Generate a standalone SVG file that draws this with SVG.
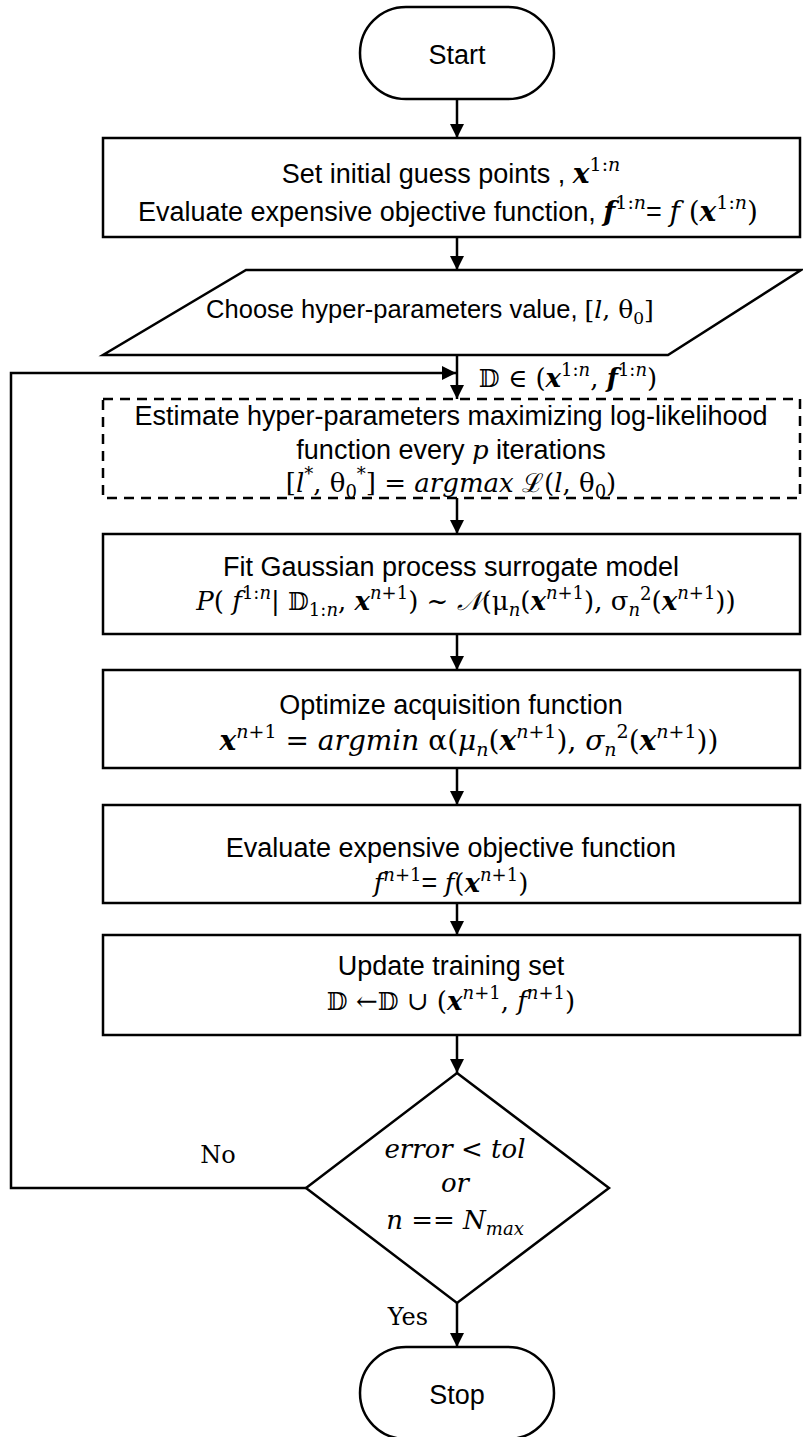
<svg xmlns="http://www.w3.org/2000/svg" width="803" height="1437" viewBox="0 0 803 1437">
<defs>
<marker id="ah" markerUnits="userSpaceOnUse" markerWidth="14" markerHeight="14" refX="14" refY="7" orient="auto"><path d="M0,0 L14,7 L0,14 z" fill="#000"/></marker>
<style>
.sh{fill:#fff;stroke:#000;stroke-width:2.5}
.t{font-family:"Liberation Sans",Arial,sans-serif;font-size:27px;fill:#000;text-anchor:middle}
.m{font-size:26px}
.m2{font-size:28px}
.i{font-family:"DejaVu Serif",serif;font-style:italic}
.b{font-family:"DejaVu Serif",serif;font-style:italic;font-weight:bold}
.r{font-family:"DejaVu Serif",serif}
.d{font-family:"DejaVu Serif","DejaVu Sans",serif;font-size:24px}
.s{font-size:18px}
.s2{font-size:19px}
.lb{font-family:"DejaVu Serif",serif;font-size:24px;fill:#000;text-anchor:middle}
.c{stroke:#000;stroke-width:2.5;fill:none;marker-end:url(#ah)}
</style>
</defs>
<g id="connectors">
<line class="c" x1="457" y1="99" x2="457" y2="138"/>
<line class="c" x1="457" y1="237" x2="457" y2="270"/>
<line class="c" x1="457" y1="355" x2="457" y2="399"/>
<polyline class="c" points="306,1188 11,1188 11,373 456,373"/>
<line class="c" x1="457" y1="498" x2="457" y2="534"/>
<line class="c" x1="457" y1="634" x2="457" y2="670"/>
<line class="c" x1="457" y1="768" x2="457" y2="805"/>
<line class="c" x1="457" y1="903" x2="457" y2="935"/>
<line class="c" x1="457" y1="1035" x2="457" y2="1073"/>
<line class="c" x1="457" y1="1303" x2="457" y2="1347"/>
</g>
<g id="start">
<rect class="sh" x="360" y="7" width="194" height="92" rx="46"/>
<text class="t" x="457" y="64">Start</text>
</g>
<g id="init">
<rect class="sh" x="103" y="138" width="697" height="99"/>
<text class="t" x="451" y="183">Set initial guess points , <tspan class="b m2">x</tspan><tspan class="r s2" dy="-12">1:</tspan><tspan class="i s2">n</tspan></text>
<text class="t" x="448" y="221">Evaluate expensive objective function, <tspan class="b m2">f</tspan><tspan class="r s2" dy="-12">1:</tspan><tspan class="i s2">n</tspan><tspan dy="12">= </tspan><tspan class="i m2">f</tspan><tspan class="r m2"> (</tspan><tspan class="b m2">x</tspan><tspan class="r s2" dy="-12">1:</tspan><tspan class="i s2">n</tspan><tspan class="r m2" dy="12">)</tspan></text>
</g>
<g id="hyper">
<polygon class="sh" points="246,270 801,270 668,355 103,355"/>
<text class="t" x="430" y="318" style="font-size:25.5px">Choose hyper-parameters value, <tspan class="r" style="font-size:25px">[</tspan><tspan class="i" style="font-size:25px">l</tspan><tspan class="r" style="font-size:25px">, θ</tspan><tspan class="r" style="font-size:17px" dy="6">0</tspan><tspan class="r" style="font-size:25px" dy="-6">]</tspan></text>
</g>
<g id="dlabel">
<text class="t" x="568" y="387"><tspan class="d">𝔻</tspan><tspan class="r m"> ∈ (</tspan><tspan class="b m">x</tspan><tspan class="r s" dy="-11">1:</tspan><tspan class="i s">n</tspan><tspan class="r m" dy="11">, </tspan><tspan class="b m">f</tspan><tspan class="r s" dy="-11">1:</tspan><tspan class="i s">n</tspan><tspan class="r m" dy="11">)</tspan></text>
</g>
<g id="estimate">
<rect x="103" y="399" width="697" height="99" fill="#fff" stroke="#000" stroke-width="2.5" stroke-dasharray="10,7"/>
<text class="t" x="451" y="425">Estimate hyper-parameters maximizing log-likelihood</text>
<text class="t" x="451" y="459">function every <tspan class="i m">p</tspan> iterations</text>
<text class="t" x="451" y="492"><tspan class="r m">[</tspan><tspan class="i m">l</tspan><tspan class="r s" dy="-12">*</tspan><tspan class="r m" dy="12">, θ</tspan><tspan class="r s" dy="6">0</tspan><tspan class="r s" dy="-18">*</tspan><tspan class="r m" dy="12">] = </tspan><tspan class="i m">argmax </tspan><tspan class="r m">ℒ(</tspan><tspan class="i m">l</tspan><tspan class="r m">, θ</tspan><tspan class="r s" dy="6">0</tspan><tspan class="r m" dy="-6">)</tspan></text>
</g>
<g id="fit">
<rect class="sh" x="103" y="534" width="697" height="100"/>
<text class="t" x="451" y="576">Fit Gaussian process surrogate model</text>
<text class="t" x="466" y="610"><tspan class="i m">P</tspan><tspan class="r m">( </tspan><tspan class="i m">f</tspan><tspan class="r s" dy="-11">1:</tspan><tspan class="i s">n</tspan><tspan class="r m" dy="11">| </tspan><tspan class="d">𝔻</tspan><tspan class="r s" dy="6">1:</tspan><tspan class="i s">n</tspan><tspan class="r m" dy="-6">, </tspan><tspan class="b m">x</tspan><tspan class="i s" dy="-11">n</tspan><tspan class="r s">+1</tspan><tspan class="r m" dy="11">) ~ </tspan><tspan class="i m">𝒩</tspan><tspan class="r m">(μ</tspan><tspan class="i s" dy="6">n</tspan><tspan class="r m" dy="-6">(</tspan><tspan class="b m">x</tspan><tspan class="i s" dy="-11">n</tspan><tspan class="r s">+1</tspan><tspan class="r m" dy="11">), σ</tspan><tspan class="i s" dy="6">n</tspan><tspan class="r s" dy="-16">2</tspan><tspan class="r m" dy="10">(</tspan><tspan class="b m">x</tspan><tspan class="i s" dy="-11">n</tspan><tspan class="r s">+1</tspan><tspan class="r m" dy="11">))</tspan></text>
</g>
<g id="acq">
<rect class="sh" x="103" y="670" width="697" height="98"/>
<text class="t" x="451" y="714">Optimize acquisition function</text>
<text class="t" x="469" y="750"><tspan class="b m2">x</tspan><tspan class="i s2" dy="-12">n</tspan><tspan class="r s2">+1</tspan><tspan class="r m2" dy="12"> = </tspan><tspan class="i m2">argmin </tspan><tspan class="r m2">α(</tspan><tspan class="i m2">μ</tspan><tspan class="i s2" dy="6">n</tspan><tspan class="r m2" dy="-6">(</tspan><tspan class="b m2">x</tspan><tspan class="i s2" dy="-12">n</tspan><tspan class="r s2">+1</tspan><tspan class="r m2" dy="12">), </tspan><tspan class="i m2">σ</tspan><tspan class="i s2" dy="6">n</tspan><tspan class="r s2" dy="-18">2</tspan><tspan class="r m2" dy="12">(</tspan><tspan class="b m2">x</tspan><tspan class="i s2" dy="-12">n</tspan><tspan class="r s2">+1</tspan><tspan class="r m2" dy="12">))</tspan></text>
</g>
<g id="eval">
<rect class="sh" x="103" y="805" width="697" height="98"/>
<text class="t" x="451" y="857">Evaluate expensive objective function</text>
<text class="t" x="451" y="892"><tspan class="i m">f</tspan><tspan class="i s" dy="-11">n</tspan><tspan class="r s">+1</tspan><tspan dy="11">= </tspan><tspan class="i m">f</tspan><tspan class="r m">(</tspan><tspan class="b m">x</tspan><tspan class="i s" dy="-11">n</tspan><tspan class="r s">+1</tspan><tspan class="r m" dy="11">)</tspan></text>
</g>
<g id="update">
<rect class="sh" x="103" y="935" width="697" height="100"/>
<text class="t" x="451" y="975">Update training set</text>
<text class="t" x="451" y="1010"><tspan class="d">𝔻</tspan><tspan class="r m"> ←</tspan><tspan class="d">𝔻</tspan><tspan class="r m"> ∪ (</tspan><tspan class="b m">x</tspan><tspan class="i s" dy="-11">n</tspan><tspan class="r s">+1</tspan><tspan class="r m" dy="11">, </tspan><tspan class="i m">f</tspan><tspan class="i s" dy="-11">n</tspan><tspan class="r s">+1</tspan><tspan class="r m" dy="11">)</tspan></text>
</g>
<g id="decision">
<polygon class="sh" points="457,1073 609,1188 457,1303 306,1188"/>
<text class="t" x="455" y="1158"><tspan class="i m">error </tspan><tspan class="r m">&lt; </tspan><tspan class="i m">tol</tspan></text>
<text class="t" x="455" y="1192"><tspan class="i m">or</tspan></text>
<text class="t" x="455" y="1229"><tspan class="i m">n </tspan><tspan class="r m">== </tspan><tspan class="i m">N</tspan><tspan class="i s" dy="6">max</tspan></text>
</g>
<g id="labels">
<text class="lb" x="218" y="1163">No</text>
<text class="lb" x="408" y="1325">Yes</text>
</g>
<g id="stop">
<rect class="sh" x="360" y="1347" width="194" height="92" rx="46"/>
<text class="t" x="457" y="1404">Stop</text>
</g>
</svg>
